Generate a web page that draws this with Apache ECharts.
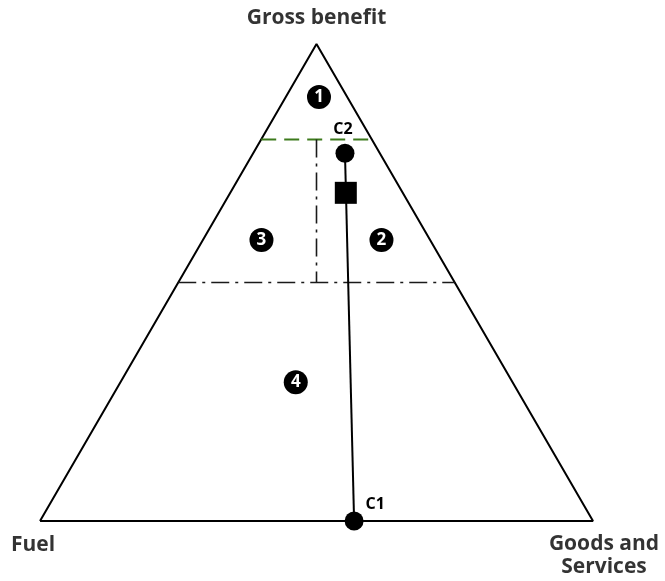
<!DOCTYPE html>
<html>
<head>
<meta charset="utf-8">
<script src="https://cdn.jsdelivr.net/npm/echarts@6/dist/echarts.min.js"></script>
<style>
  html, body { margin: 0; padding: 0; background: #fff; }
  #main { width: 665px; height: 581px; }
</style>
</head>
<body>
<div id="main"></div>
<script>
// ternary values as [benefit share, goods share] (fuel = rest)
var vertexNames = ['Fuel', 'Goods and\nServices', 'Gross benefit'];
var vertices = [[0, 0], [0, 1], [1, 0]];
var benefitCut = 0.8;       // green dashed line
var regionCut = 0.5;        // dash-dot horizontal
var pointC1 = [0, 0.568];
var pointC2 = [0.771, 0.166];
var pointSquare = [0.688, 0.209];
var regionNames = ['1', '2', '3', '4'];
var regionPos = [[0.889, 0.06], [0.589, 0.323], [0.589, 0.106], [0.291, 0.317]];

var H = Math.sqrt(3) / 2;
// benefit/goods -> plane coordinates
function tern(p) {
    return [p[1] + p[0] / 2, p[0] * H];
}
// points on the triangle edges at a given benefit level
function leftEdge(b) { return tern([b, 0]); }
function rightEdge(b) { return tern([b, 1 - b]); }

var dashDot = {color: '#1a1a1a', width: 1.6, type: [18, 6, 3, 6]};

var dom = document.getElementById('main'),
    myChart = echarts.init(dom),
    option = {
        animation: false,
        grid: {left: 40, right: 72, top: 44, bottom: 60},
        xAxis: {type: 'value', min: 0, max: 1, show: false},
        yAxis: {type: 'value', min: 0, max: H, show: false},
        series: [
            {
                // outline
                type: 'line',
                symbol: 'none',
                lineStyle: {color: '#000', width: 2},
                data: vertices.concat([vertices[0]]).map(tern)
            },
            {
                type: 'line',
                symbol: 'none',
                lineStyle: {color: '#3d7a1c', width: 2, type: [15, 8]},
                data: [leftEdge(benefitCut), rightEdge(benefitCut)]
            },
            {
                type: 'line',
                symbol: 'none',
                lineStyle: dashDot,
                data: [leftEdge(regionCut), rightEdge(regionCut)]
            },
            {
                type: 'line',
                symbol: 'none',
                lineStyle: dashDot,
                data: [tern([benefitCut, (1 - benefitCut) / 2]), tern([regionCut, (1 - regionCut) / 2])]
            },
            {
                // C1 - C2 path
                type: 'line',
                symbol: 'none',
                lineStyle: {color: '#000', width: 2},
                data: [tern(pointC2), tern(pointC1)]
            },
            {
                type: 'scatter',
                symbol: 'circle',
                symbolSize: 19,
                itemStyle: {color: '#000', opacity: 1},
                label: {
                    show: true,
                    fontFamily: 'Open Sans',
                    fontWeight: 'bold',
                    fontSize: 16,
                    color: '#000',
                    formatter: function (p) { return p.data.name; }
                },
                data: [
                    {name: 'C2', value: tern(pointC2), label: {position: 'top', distance: 6, offset: [-2, 0]}},
                    {name: 'C1', value: tern(pointC1), label: {position: 'right', offset: [-3, -17]}}
                ]
            },
            {
                type: 'scatter',
                symbol: 'rect',
                symbolSize: 22,
                itemStyle: {color: '#000', opacity: 1},
                data: [tern(pointSquare)]
            },
            {
                // region markers
                type: 'scatter',
                symbol: 'circle',
                symbolSize: 24,
                itemStyle: {color: '#000', opacity: 1},
                label: {
                    show: true,
                    position: 'inside',
                    fontFamily: 'Open Sans',
                    fontWeight: 'bold',
                    fontSize: 17,
                    color: '#fff',
                    formatter: function (p) { return p.data.name; }
                },
                data: regionPos.map(function (p, i) {
                    return {name: regionNames[i], value: tern(p)};
                })
            },
            {
                // vertex labels
                type: 'scatter',
                symbolSize: 0,
                silent: true,
                label: {
                    show: true,
                    fontFamily: 'Open Sans',
                    fontWeight: 'bold',
                    fontSize: 21,
                    lineHeight: 23,
                    color: '#000',
                    align: 'center',
                    formatter: function (p) { return p.data.name; }
                },
                data: [
                    {name: vertexNames[0], value: tern(vertices[0]), label: {position: 'bottom', distance: 13, offset: [-7, 0]}},
                    {name: vertexNames[1], value: tern(vertices[1]), label: {position: 'bottom', distance: 12, offset: [11, 0]}},
                    {name: vertexNames[2], value: tern(vertices[2]), label: {position: 'top', distance: 14}}
                ]
            }
        ]
    };
myChart.setOption(option);
</script>
</body>
</html>
